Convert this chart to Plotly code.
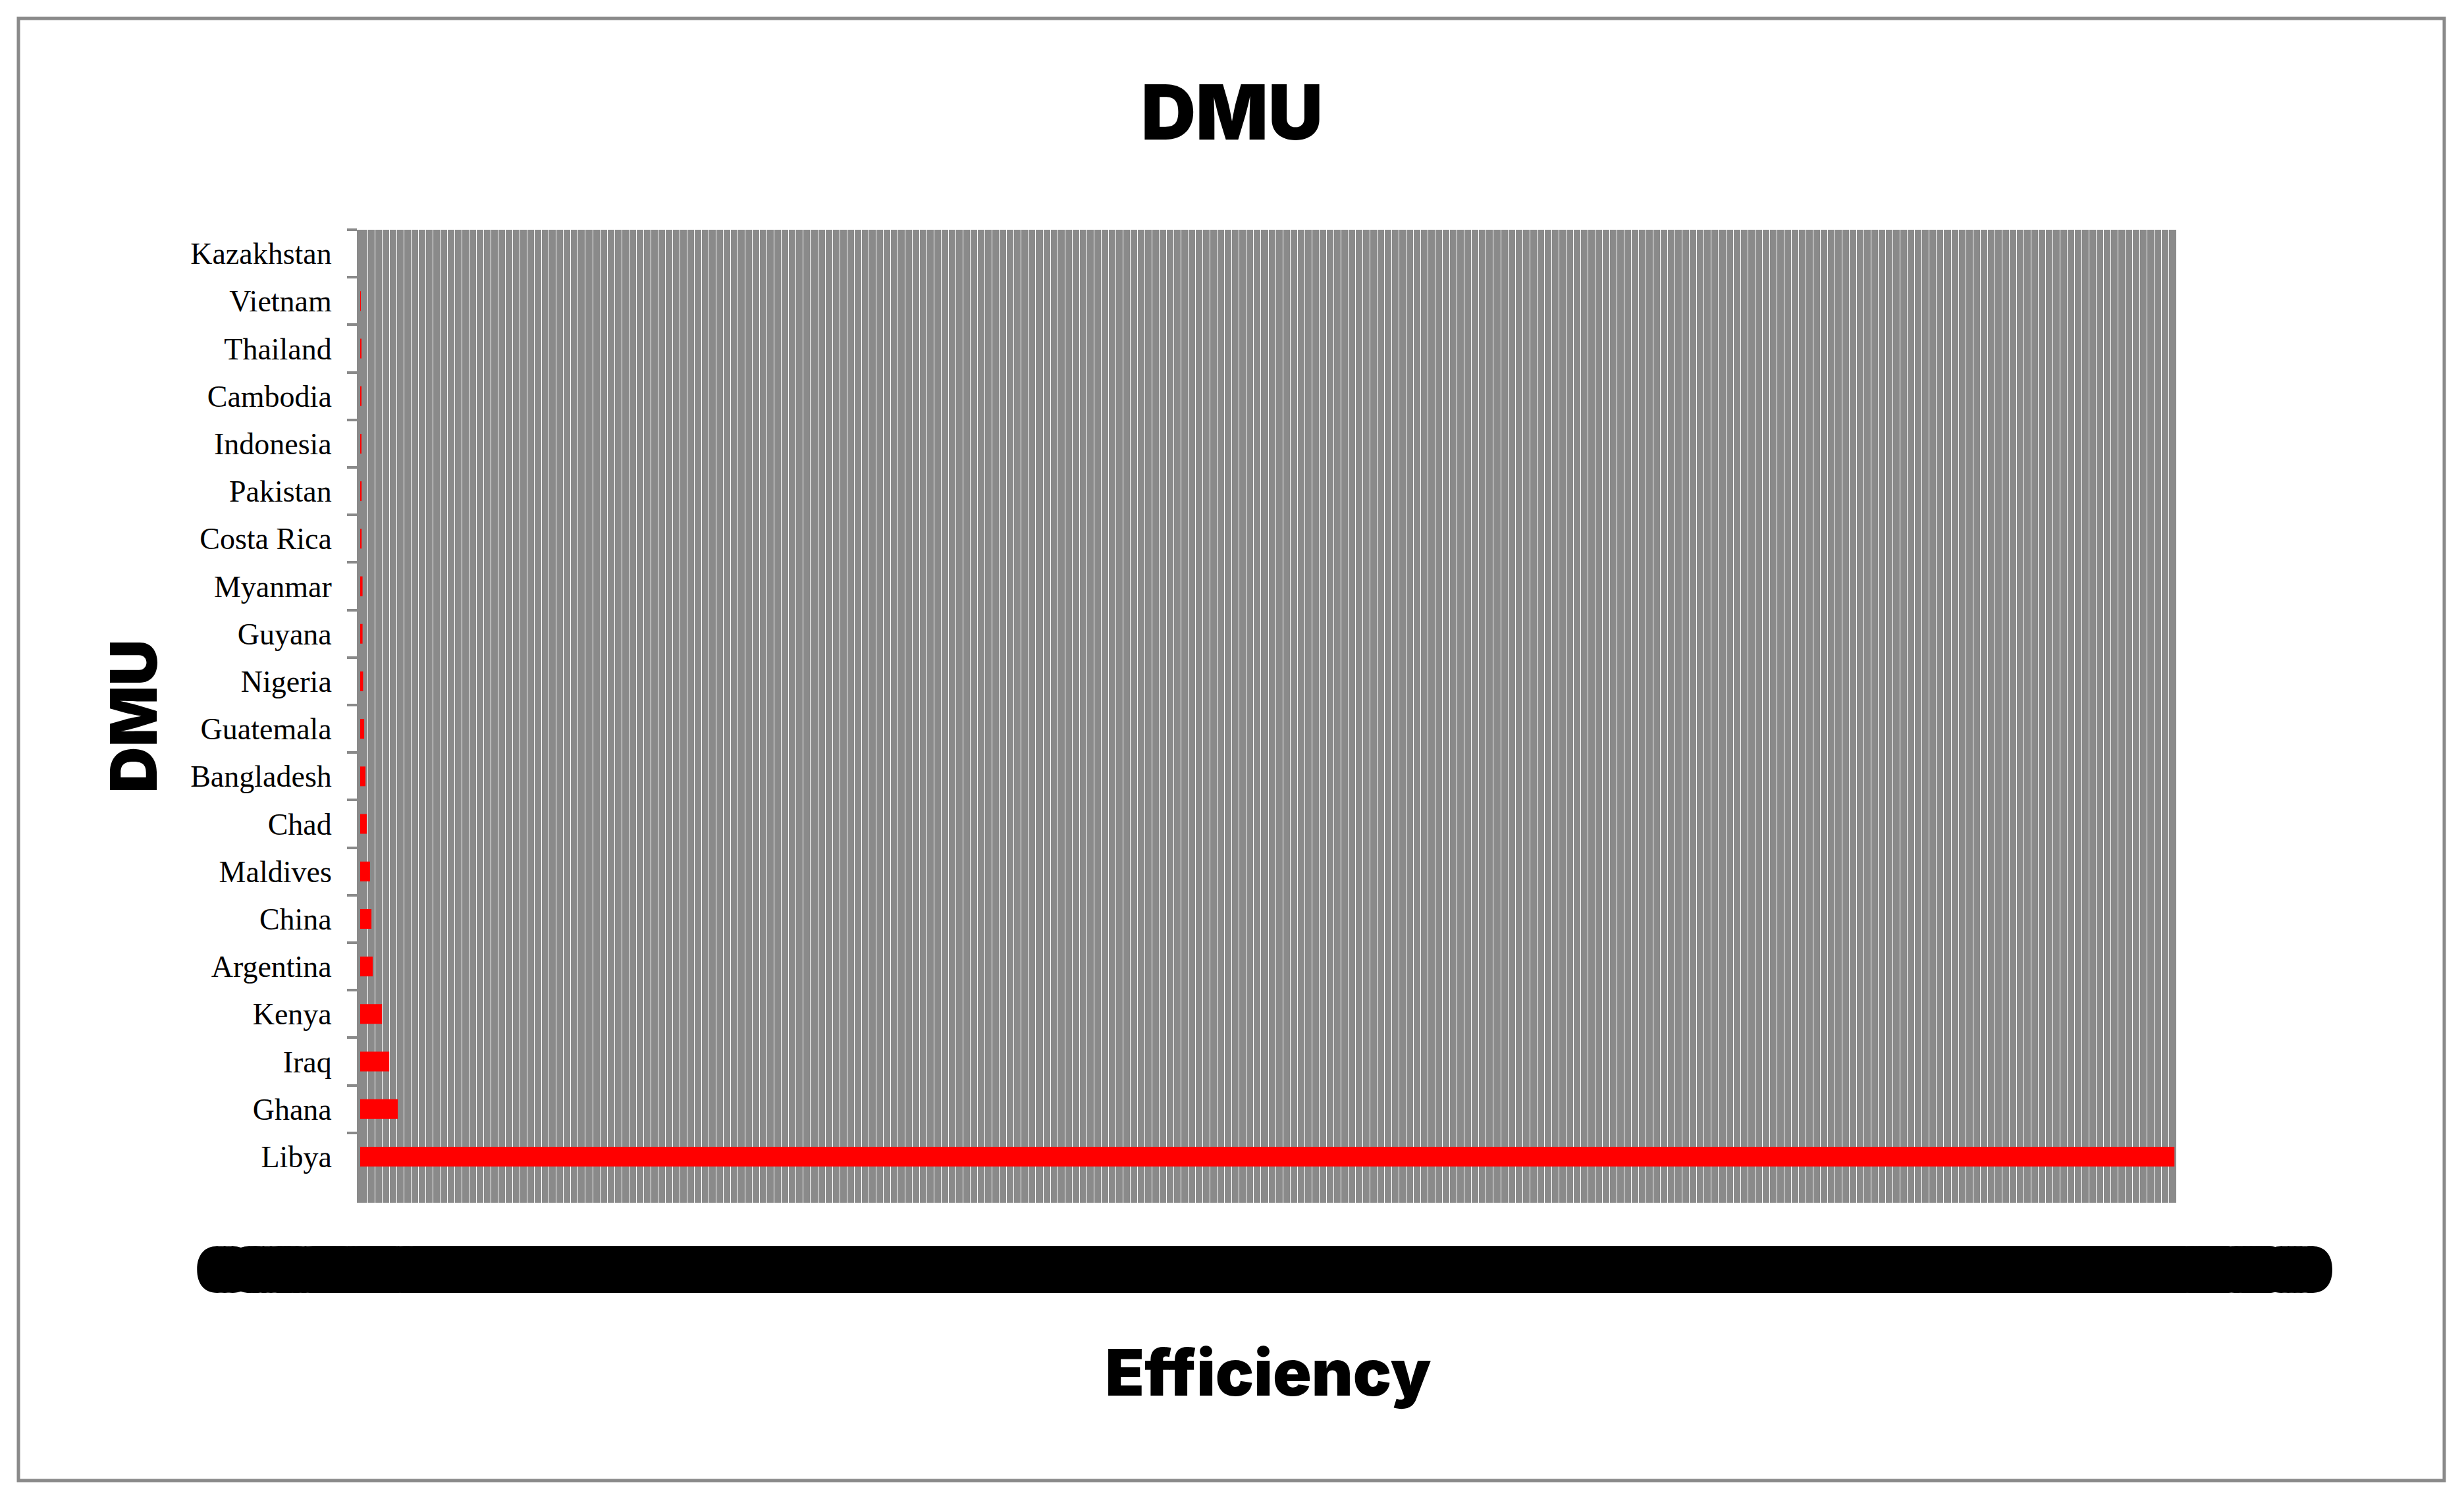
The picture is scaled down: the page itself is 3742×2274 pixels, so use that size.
import plotly.graph_objects as go

# page body has an 8px margin, so the figure is drawn a bit smaller and targets are shifted
OFF = 8
W, H = 3742 - 2 * OFF, 2274 - 2 * OFF

countries = [
    "Kazakhstan", "Vietnam", "Thailand", "Cambodia", "Indonesia", "Pakistan",
    "Costa Rica", "Myanmar", "Guyana", "Nigeria", "Guatemala", "Bangladesh",
    "Chad", "Maldives", "China", "Argentina", "Kenya", "Iraq", "Ghana", "Libya",
]
efficiency = [
    0.0, 0.0001, 0.0004, 0.0004, 0.0007, 0.0008,
    0.0008, 0.0013, 0.0013, 0.0016, 0.0022, 0.0029,
    0.0036, 0.0054, 0.0062, 0.0069, 0.012, 0.016, 0.0207, 0.999,
]

x_max = 1.0
x_step = 0.004

heavy = "Arial Black, Inter, Roboto, Lato, sans-serif"
serif = "Book Antiqua, Palatino Linotype, Liberation Serif, DejaVu Serif, serif"
grey = "#8a8a8a"

# plot area in page pixels
left, right, top, bottom = 547 - OFF, 3305 - OFF, 349 - OFF, 1827 - OFF


def px_x(p):
    return (p - OFF - left) / (right - left)


def px_y(p):
    return (bottom - (p - OFF)) / (bottom - top)


fig = go.Figure(
    go.Bar(
        x=efficiency,
        y=countries,
        orientation="h",
        marker=dict(color="#ff0000", line=dict(width=0)),
    )
)

fig.update_layout(
    width=W,
    height=H,
    margin=dict(l=left, r=W - right, t=top, b=H - bottom, autoexpand=False),
    paper_bgcolor="white",
    plot_bgcolor=grey,
    bargap=0.585,
    showlegend=False,
    title=dict(
        text="DMU",
        x=(1871 - OFF) / W,
        xanchor="center",
        y=1 - (172 - OFF) / H,
        yanchor="middle",
        font=dict(family=heavy, size=115, color="black", weight=900),
    ),
    shapes=[
        dict(
            type="rect", xref="paper", yref="paper",
            x0=px_x(28), x1=px_x(3712), y0=px_y(2249), y1=px_y(28),
            line=dict(color=grey, width=5), layer="below",
        )
    ],
)

fig.update_xaxes(
    range=[0, x_max],
    tickmode="linear",
    tick0=0,
    dtick=x_step,
    tickformat=".6f",
    tickangle=0,
    ticks="",
    showgrid=True,
    gridcolor="white",
    gridwidth=1,
    zeroline=False,
    showline=False,
    tickfont=dict(family=heavy, size=95, color="black", weight=900),
    ticklabelstandoff=40,
    title=dict(
        text="Efficiency",
        standoff=67,
        font=dict(family=heavy, size=97, color="black", weight=900),
    ),
)

fig.update_yaxes(
    categoryorder="array",
    categoryarray=countries,
    range=[len(countries) - 0.5 + 0.47, -0.5],
    tickson="boundaries",
    ticks="outside",
    ticklen=15,
    tickwidth=4,
    tickcolor=grey,
    showgrid=False,
    zeroline=False,
    showline=True,
    linecolor=grey,
    linewidth=5,
    tickfont=dict(family=serif, size=46, color="black"),
    ticklabelstandoff=29,
    title=dict(
        text="DMU",
        standoff=20,
        font=dict(family=heavy, size=97, color="black", weight=900),
    ),
)

fig.write_html("out.html")
